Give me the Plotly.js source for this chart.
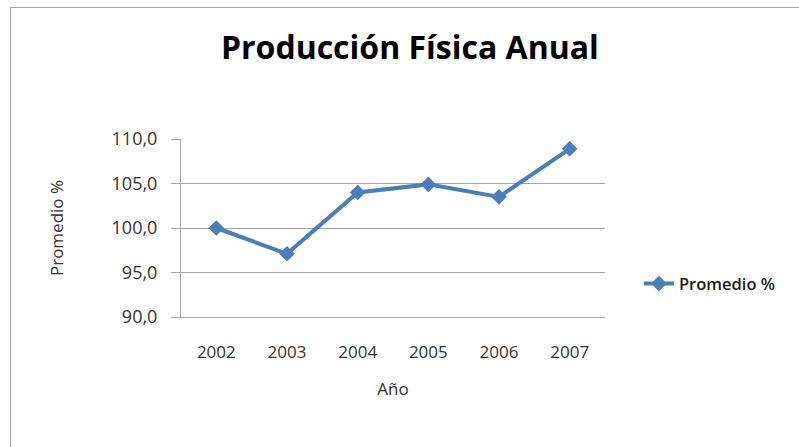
<!DOCTYPE html>
<html>
<head>
<meta charset="utf-8">
<script src="https://cdn.plot.ly/plotly-3.0.1.min.js"></script>
<style>
html,body{margin:0;padding:0;background:#fff;}
#wrap{position:relative;width:799px;height:447px;overflow:hidden;}
#chart{position:absolute;left:0;top:0;width:799px;height:447px;}
#frame{position:absolute;left:10px;top:7px;width:900px;height:600px;border-left:1px solid #a6a6a6;border-top:1px solid #a6a6a6;pointer-events:none;}
</style>
</head>
<body>
<div id="wrap"><div id="chart"></div><div id="frame"></div></div>
<script>
var years = ["2002","2003","2004","2005","2006","2007"];
var promedio = [100.0, 97.1, 104.0, 104.9, 103.5, 108.9];
var yTicks = [90, 95, 100, 105, 110];
var seriesName = "Promedio %";

var font = "Open Sans, Liberation Sans, sans-serif";
var trace = {
  x: years, y: promedio, name: seriesName, type: "scatter", mode: "lines+markers",
  line: {color: "#4a7ebb", width: 4},
  marker: {symbol: "diamond", size: 12, color: "#4a7ebb"}
};
var layout = {
  width: 799, height: 447,
  margin: {l: 181, r: 194, t: 139, b: 130},
  paper_bgcolor: "#ffffff", plot_bgcolor: "#ffffff",
  separators: ",.",
  title: {text: "<b>Producción Física Anual</b>", font: {family: font, size: 32, color: "#000"},
          x: 0.513, xanchor: "center", y: 0.893, yanchor: "middle"},
  xaxis: {type: "category", range: [-0.5, 5.5], showgrid: false, zeroline: false,
          showline: true, linecolor: "#a6a6a6", linewidth: 1, ticks: "",
          ticklabelstandoff: 20,
          tickfont: {family: font, size: 17, color: "#333"},
          title: {text: "Año", font: {family: font, size: 17, color: "#333"}, standoff: 20}},
  yaxis: {range: [90, 110], tickvals: yTicks, tickformat: ".1f", showgrid: true,
          gridcolor: "#a6a6a6", gridwidth: 1, zeroline: false,
          showline: true, linecolor: "#a6a6a6", linewidth: 1,
          ticks: "outside", ticklen: 9, tickcolor: "#a6a6a6",
          ticklabelstandoff: 10,
          tickfont: {family: font, size: 18, color: "#333"},
          title: {text: "Promedio %", font: {family: font, size: 17, color: "#333"}, standoff: 43}},
  showlegend: true,
  legend: {x: 1.08, xanchor: "left", y: 0.186, yanchor: "middle",
           font: {family: font, size: 16.5, color: "#1a1a1a", weight: 600}, bgcolor: "rgba(0,0,0,0)"}
};
Plotly.newPlot("chart", [trace], layout, {displayModeBar: false, staticPlot: true});
</script>
</body>
</html>
